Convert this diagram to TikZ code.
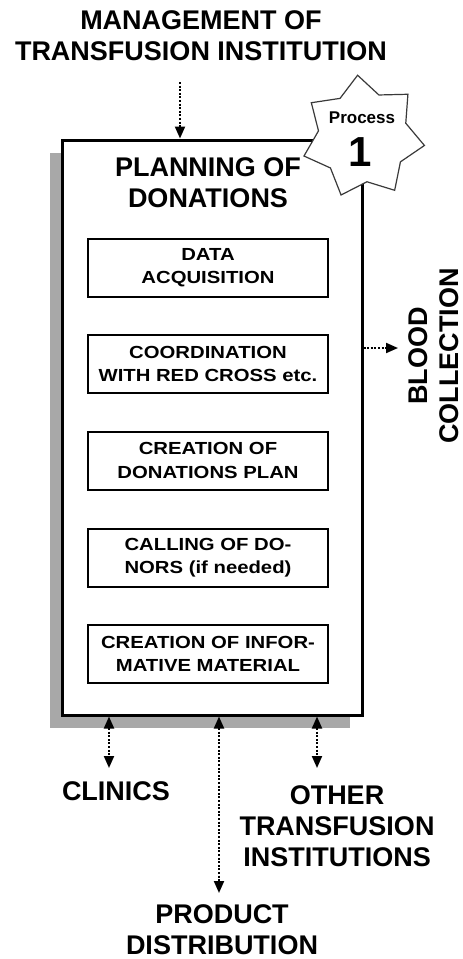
\documentclass[tikz,border=0pt]{standalone}
\usepackage{fontspec}
\setmainfont{Liberation Sans}
\newfontfamily\widefont[FakeStretch=1.16]{Liberation Sans}
\usetikzlibrary{shapes.geometric,arrows.meta,shadows}
\definecolor{shadowgray}{HTML}{A8A8A8}
\definecolor{starline}{HTML}{3A3A3A}
\begin{document}
\begin{tikzpicture}[x=1pt,y=-1pt,
  heading/.style={font=\fontsize{27}{31}\selectfont\bfseries, align=center, inner sep=0},
  mainbox/.style={draw, line width=3pt, fill=white, minimum width=300pt, minimum height=575pt,
    inner sep=0, drop shadow={shadow xshift=-12pt, shadow yshift=-13pt, fill=shadowgray, opacity=1}},
  stepbox/.style={draw, line width=2pt, fill=white, minimum width=240pt, minimum height=58pt,
    inner sep=0, align=center, font=\widefont\bfseries\fontsize{17.5}{23.5}\selectfont},
  badge/.style={star, star points=7, star point ratio=1.38, minimum size=124pt, inner sep=0,
    draw=starline, line width=1.2pt, fill=white, shape border rotate=5},
  flow/.style={line width=2pt, dash pattern=on 2pt off 1.6pt, -{Triangle[width=10pt,length=12pt]}},
  flow2/.style={line width=2pt, dash pattern=on 2pt off 1.6pt,
    {Triangle[width=10pt,length=12pt]}-{Triangle[width=10pt,length=12pt]}}]
\useasboundingbox (0,0) rectangle (463,959);
\fill[white] (0,0) rectangle (463,959);

% process box with its shadow
\node[mainbox] (plan) at (212,427.5) {};

% external participants
\node[heading] (mgmt) at (201,36) {MANAGEMENT OF\\TRANSFUSION INSTITUTION};
\node[heading] (title) at (208,183) {PLANNING OF\\DONATIONS};
\node[heading, rotate=90] (blood) at (434,356) {BLOOD\\COLLECTION};
\node[heading] (clinics) at (116,791) {CLINICS};
\node[heading] (other) at (337,826.5) {OTHER\\TRANSFUSION\\INSTITUTIONS};
\node[heading] (product) at (222,930) {PRODUCT\\DISTRIBUTION};

% steps of the process
\node[stepbox] (s1) at (208,267.5) {DATA\\ACQUISITION};
\node[stepbox] (s2) at (208,364) {COORDINATION\\WITH RED CROSS etc.};
\node[stepbox] (s3) at (208,460.5) {CREATION OF\\DONATIONS PLAN};
\node[stepbox] (s4) at (208,557.5) {CALLING OF DO-\\NORS (if needed)};
\node[stepbox] (s5) at (208,654) {CREATION OF INFOR-\\MATIVE MATERIAL};

% process badge on the top right corner
\node[badge] (star) at (363,137) {};
\node[font=\fontsize{17}{20}\selectfont\bfseries, inner sep=0] (proc) at (362,117.5) {Process};
\node[font=\fontsize{42}{46}\selectfont\bfseries, inner sep=0] (num) at (360,152) {1};

% connector ends
\coordinate (mgmtEnd) at (180,82);
\coordinate (bloodEnd) at (398,348);
\coordinate (clinEnd) at (109,768);
\coordinate (prodEnd) at (219,893);
\coordinate (otherEnd) at (317,768);

% connectors
\draw[flow] (mgmtEnd) -- (mgmtEnd |- plan.north);
\draw[flow] (bloodEnd -| plan.east) -- (bloodEnd);
\draw[flow2] (clinEnd |- plan.south) -- (clinEnd);
\draw[flow2] (prodEnd |- plan.south) -- (prodEnd);
\draw[flow2] (otherEnd |- plan.south) -- (otherEnd);
\end{tikzpicture}
\end{document}
